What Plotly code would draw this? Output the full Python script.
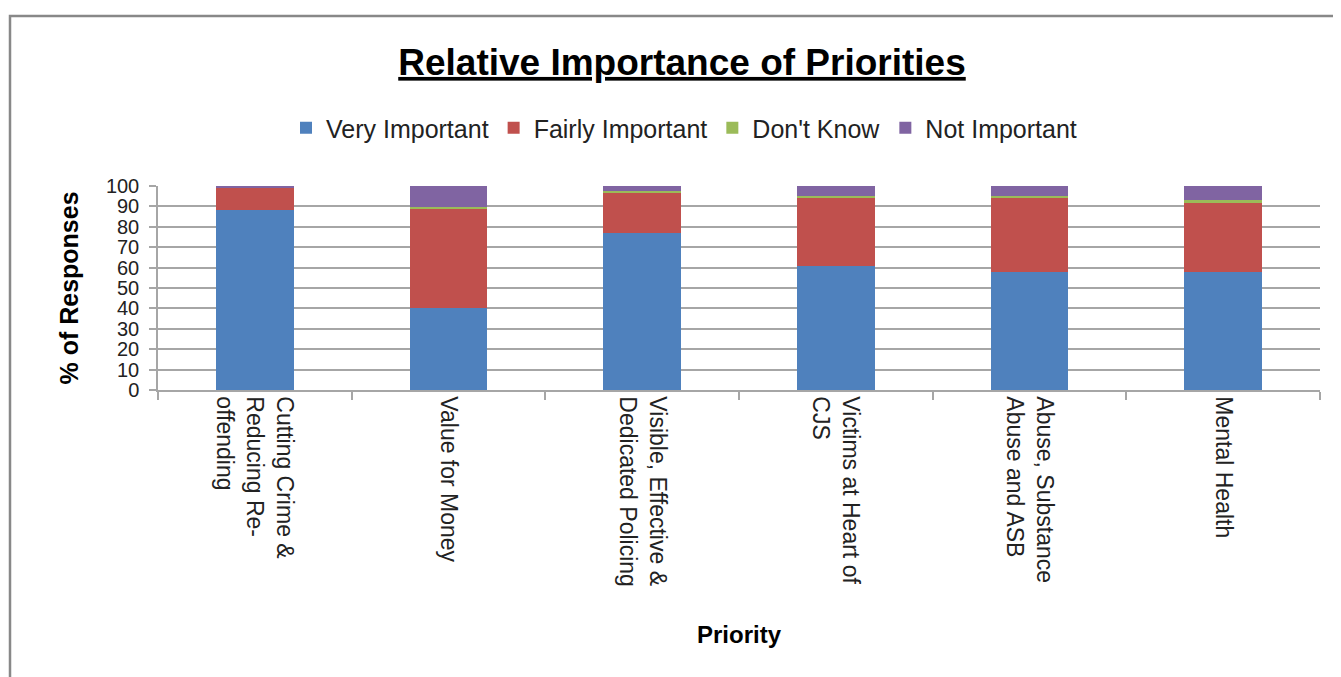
import plotly.graph_objects as go

categories = [
    "Cutting Crime &<br>Reducing Re-<br>offending",
    "Value for Money",
    "Visible, Effective &<br>Dedicated Policing",
    "Victims at Heart of<br>CJS",
    "Abuse, Substance<br>Abuse and ASB",
    "Mental Health",
]
very_important = [88, 40.4, 77, 61, 58, 58]
fairly_important = [11.2, 48.6, 19.8, 33.5, 36.5, 33.5]
dont_know = [0, 0.7, 0.8, 0.8, 0.8, 1.6]
not_important = [0.8, 10.3, 2.4, 4.7, 4.7, 6.9]

series = [
    ("Very Important", very_important, "#4F81BD"),
    ("Fairly Important", fairly_important, "#C0504D"),
    ("Don't Know", dont_know, "#9BBB59"),
    ("Not Important", not_important, "#8064A2"),
]

fig = go.Figure()
for name, vals, color in series:
    fig.add_trace(go.Bar(x=categories, y=vals, name=name,
                         marker=dict(color=color, line=dict(width=0))))

FONT = "Liberation Sans, Arial, sans-serif"
GRID = "#a6a6a6"

# page body has an 8px margin: figure is 1333x669, everything shifted by -8
W, H = 1333, 669
L, T, PH = 150, 178, 204
R = W - 1312
B = H - T - PH
PW = W - L - R

fig.update_layout(
    barmode="stack",
    bargap=0.6,
    width=W, height=H,
    paper_bgcolor="white", plot_bgcolor="white",
    margin=dict(l=L, r=R, t=T, b=B),
    font=dict(family=FONT, color="#222222"),
    title=dict(text="<b><u>Relative Importance of Priorities</u></b>",
               x=674 / W, xref="container", xanchor="center",
               y=1 - 54 / H, yref="container", yanchor="middle",
               font=dict(size=37, color="black", family=FONT)),
    legend=dict(orientation="h", xref="container", yref="container",
                x=676 / W, xanchor="center", y=1 - 120 / H, yanchor="middle",
                font=dict(size=25, color="#222222", family=FONT),
                traceorder="normal", itemwidth=30, bgcolor="rgba(0,0,0,0)"),
    showlegend=True,
)

fig.update_xaxes(
    type="category",
    tickson="boundaries",
    ticks="outside", ticklen=8, tickcolor=GRID, tickwidth=1.5,
    showline=True, linecolor=GRID, linewidth=1.5,
    showgrid=False,
    tickangle=90,
    tickfont=dict(size=23, color="#222222", family=FONT),
    title=dict(text="<b>Priority</b>", font=dict(size=24, color="black", family=FONT),
               standoff=40),
)

fig.update_yaxes(
    range=[0, 100], dtick=10, tick0=0,
    ticks="outside", ticklen=7, tickcolor=GRID, tickwidth=1.5,
    showline=True, linecolor=GRID, linewidth=1.5,
    showgrid=True, gridcolor=GRID, gridwidth=1.5,
    zeroline=False,
    ticklabelstandoff=6,
    tickfont=dict(size=20, color="#222222", family=FONT),
    title=dict(text="<b>% of Responses</b>", font=dict(size=25, color="black", family=FONT),
               standoff=20),
)

# outer chart frame
fig.add_shape(type="rect", xref="paper", yref="paper",
              x0=(2 - L) / PW, x1=(W + 10 - L) / PW,
              y0=(T + PH - (H + 10)) / PH, y1=(T + PH - 8) / PH,
              line=dict(color="#888888", width=2.5), fillcolor="rgba(0,0,0,0)",
              layer="below")

fig.write_html("out.html")
